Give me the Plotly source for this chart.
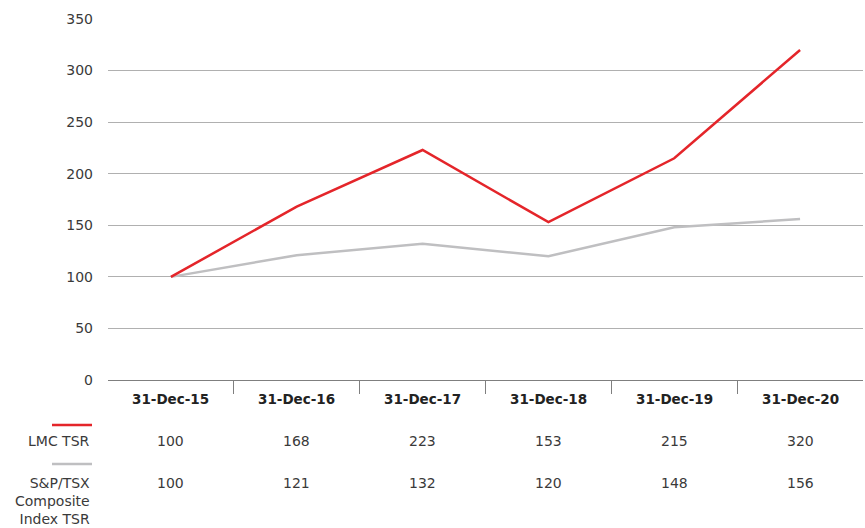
import plotly.graph_objects as go

categories = ["31-Dec-15", "31-Dec-16", "31-Dec-17", "31-Dec-18", "31-Dec-19", "31-Dec-20"]
lmc_tsr = [100, 168, 223, 153, 215, 320]
sptsx_tsr = [100, 121, 132, 120, 148, 156]
y_ticks = [0, 50, 100, 150, 200, 250, 300, 350]
series_names = ["LMC TSR", "S&P/TSX<br>Composite<br>Index TSR"]

RED = "#e4252a"
GRAY = "#bfbfc1"
TXT = "#3a3a3a"
FONT = "DejaVu Sans"

xs = list(range(len(categories)))

fig = go.Figure()
fig.add_trace(go.Scatter(x=xs, y=sptsx_tsr, mode="lines",
                         line=dict(color=GRAY, width=2.5), showlegend=False, hoverinfo="skip"))
fig.add_trace(go.Scatter(x=xs, y=lmc_tsr, mode="lines",
                         line=dict(color=RED, width=2.5), showlegend=False, hoverinfo="skip"))

annotations = []
# category labels
for i, c in enumerate(categories):
    annotations.append(dict(x=i, xref="x", y=0, yref="paper", yshift=-19, text=f"<b>{c}</b>",
                            showarrow=False, xanchor="center", yanchor="middle",
                            font=dict(family=FONT, size=13.5, color="#222222")))
# table values
for i in xs:
    annotations.append(dict(x=i, xref="x", y=0, yref="paper", yshift=-61, text=str(lmc_tsr[i]),
                            showarrow=False, xanchor="center", yanchor="middle",
                            font=dict(family=FONT, size=14, color=TXT)))
    annotations.append(dict(x=i, xref="x", y=0, yref="paper", yshift=-103, text=str(sptsx_tsr[i]),
                            showarrow=False, xanchor="center", yanchor="middle",
                            font=dict(family=FONT, size=14, color=TXT)))
# row headers
annotations.append(dict(x=0, xref="paper", xshift=-16, y=0, yref="paper", yshift=-61,
                        text=series_names[0], showarrow=False, xanchor="right", yanchor="middle",
                        align="right", font=dict(family=FONT, size=14, color=TXT)))
annotations.append(dict(x=0, xref="paper", xshift=-16, y=0, yref="paper", yshift=-121,
                        text=series_names[1], showarrow=False, xanchor="right", yanchor="middle",
                        align="right", font=dict(family=FONT, size=14, color=TXT)))

shapes = [
    dict(type="line", xref="paper", yref="paper", xsizemode="pixel", ysizemode="pixel",
         xanchor=0, yanchor=0, x0=-56, x1=-16, y0=-45, y1=-45,
         line=dict(color=RED, width=2.5)),
    dict(type="line", xref="paper", yref="paper", xsizemode="pixel", ysizemode="pixel",
         xanchor=0, yanchor=0, x0=-56, x1=-16, y0=-84, y1=-84,
         line=dict(color=GRAY, width=2.5)),
]

fig.update_layout(
    width=865, height=528,
    margin=dict(l=108, r=2, t=19, b=148),
    paper_bgcolor="white", plot_bgcolor="white",
    font=dict(family=FONT, size=14, color=TXT),
    annotations=annotations, shapes=shapes,
    xaxis=dict(range=[-0.5, 5.5], tickvals=[0.5, 1.5, 2.5, 3.5, 4.5], showticklabels=False,
               showgrid=False, zeroline=False, ticks="outside", ticklen=13, tickwidth=1,
               tickcolor="#7f7f7f", showline=True, linecolor="#7f7f7f", linewidth=1.2),
    yaxis=dict(range=[0, 350], tickvals=y_ticks, showgrid=True, gridcolor="#b0b0b0", gridwidth=1,
               zeroline=False, ticks="", ticklabelstandoff=14,
               tickfont=dict(family=FONT, size=14, color=TXT)),
)

fig.write_html("out.html", config={"displayModeBar": False},
               post_script="document.body.style.margin='0px';document.body.style.overflow='hidden';")
